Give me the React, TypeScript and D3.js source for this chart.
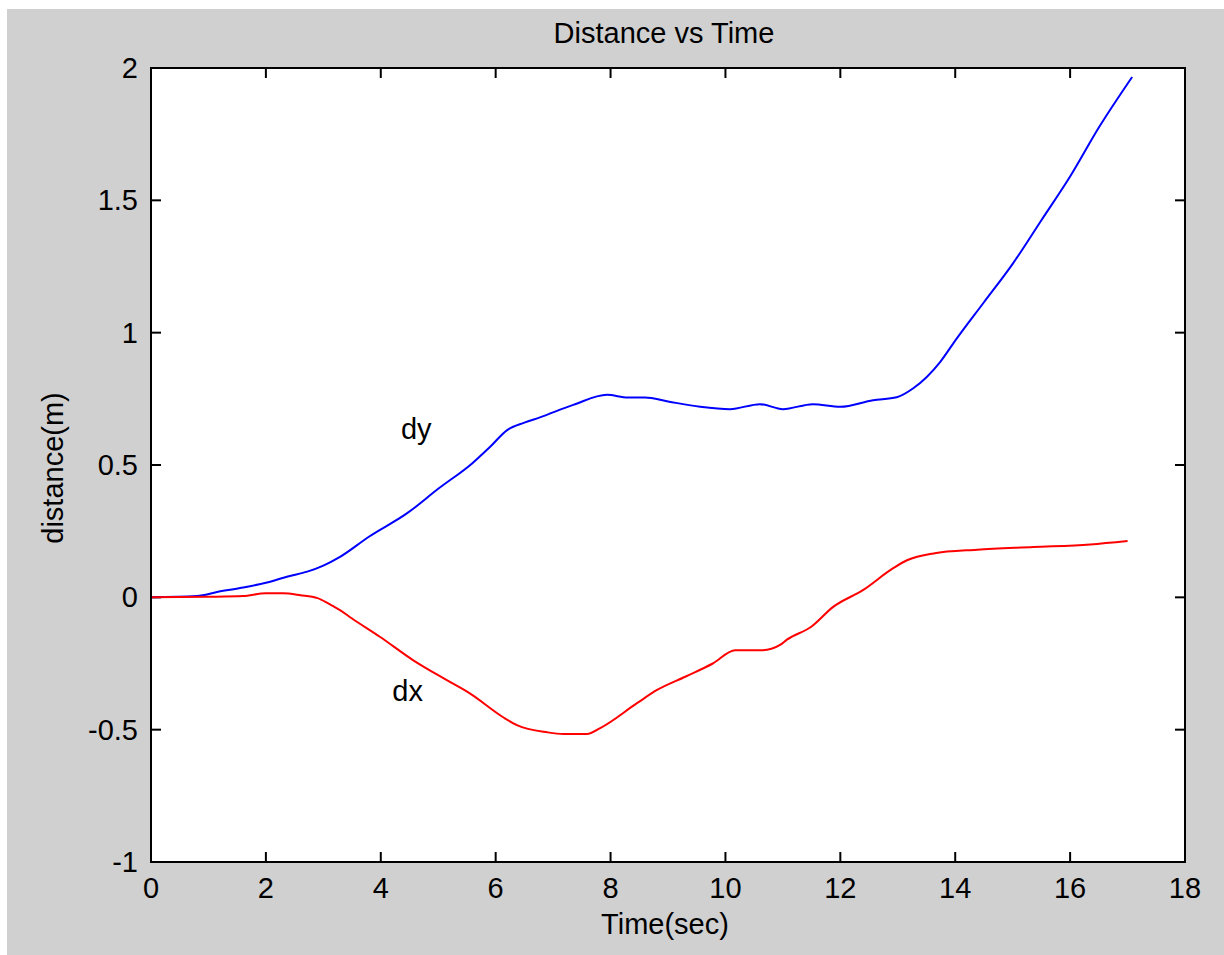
import React from "react";
import * as d3 from "d3";

const titleText = "Distance vs Time";
const xLabel = "Time(sec)";
const yLabel = "distance(m)";

const xTicks = [0, 2, 4, 6, 8, 10, 12, 14, 16, 18];
const yTicks = [-1, -0.5, 0, 0.5, 1, 1.5, 2];

const dyTime = [0, 0.8, 1.15, 1.55, 2.0, 2.4, 2.72, 3.0, 3.29, 3.8, 4.46, 5.0, 5.6, 5.9, 6.2, 6.5, 6.77, 7.35, 7.94, 8.3, 8.6, 9.0, 9.56, 10.08, 10.6, 11.0, 11.52, 12.0, 12.57, 12.98, 13.27, 13.74, 14.0, 14.5, 15.0, 15.5, 16.0, 16.5, 17.08];
const dyValue = [0, 0.005, 0.02, 0.035, 0.055, 0.08, 0.097, 0.12, 0.153, 0.23, 0.318, 0.41, 0.508, 0.568, 0.632, 0.66, 0.68, 0.727, 0.765, 0.755, 0.755, 0.74, 0.72, 0.711, 0.73, 0.711, 0.73, 0.72, 0.745, 0.756, 0.79, 0.89, 0.97, 1.115, 1.26, 1.425, 1.59, 1.775, 1.966];

const dxTime = [0, 1.0, 1.6, 2.0, 2.3, 2.6, 2.9, 3.1, 3.29, 3.5, 3.99, 4.56, 5.15, 5.55, 6.13, 6.37, 6.9, 7.18, 7.59, 7.82, 8.46, 8.81, 9.3, 9.78, 10.17, 10.65, 10.95, 11.07, 11.5, 11.87, 12.4, 12.92, 13.16, 13.62, 14.38, 15.36, 16.35, 17.0];
const dxValue = [0, 0.002, 0.005, 0.015, 0.015, 0.008, -0.003, -0.025, -0.048, -0.08, -0.15, -0.237, -0.313, -0.363, -0.453, -0.483, -0.51, -0.516, -0.516, -0.494, -0.4, -0.35, -0.3, -0.25, -0.2, -0.2, -0.18, -0.16, -0.11, -0.037, 0.028, 0.11, 0.14, 0.166, 0.18, 0.19, 0.2, 0.213];

const seriesLabels = [
  { name: "dy", t: 4.35, v: 0.6 },
  { name: "dx", t: 4.2, v: -0.39 },
];

export default function App() {
  const W = 1224;
  const H = 955;
  const left = 151, right = 1185, top = 68, bottom = 862;
  const x = d3.scaleLinear().domain([0, 18]).range([left, right]);
  const y = d3.scaleLinear().domain([-1, 2]).range([bottom, top]);
  const line = d3
    .line<[number, number]>()
    .x((d) => x(d[0]))
    .y((d) => y(d[1]))
    .curve(d3.curveMonotoneX);
  const dyPts = dyTime.map((t, i) => [t, dyValue[i]] as [number, number]);
  const dxPts = dxTime.map((t, i) => [t, dxValue[i]] as [number, number]);
  const font = "'Liberation Sans', Arial, sans-serif";
  const fs = 29;
  const tl = 10;
  return (
    <svg
      width={W}
      height={H}
      style={{ position: "absolute", left: 0, top: 0, display: "block" }}
      fontFamily={font}
    >
      <rect x={0} y={0} width={W} height={H} fill="#ffffff" />
      <rect x={7} y={9} width={W - 7} height={H - 9} fill="#d0d0d0" />
      <rect x={left} y={top} width={right - left} height={bottom - top} fill="#ffffff" />
      {xTicks.map((t) => (
        <g key={"xt" + t}>
          <line x1={x(t)} x2={x(t)} y1={bottom} y2={bottom - tl} stroke="#000" strokeWidth={2} />
          <line x1={x(t)} x2={x(t)} y1={top} y2={top + tl} stroke="#000" strokeWidth={2} />
          <text x={x(t)} y={898} textAnchor="middle" fontSize={fs} fill="#000">
            {t}
          </text>
        </g>
      ))}
      {yTicks.map((v) => (
        <g key={"yt" + v}>
          <line x1={left} x2={left + tl} y1={y(v)} y2={y(v)} stroke="#000" strokeWidth={2} />
          <line x1={right} x2={right - tl} y1={y(v)} y2={y(v)} stroke="#000" strokeWidth={2} />
          <text x={138} y={y(v)} dy="0.35em" textAnchor="end" fontSize={fs} fill="#000">
            {v}
          </text>
        </g>
      ))}
      <path d={line(dyPts) || ""} fill="none" stroke="#0000ff" strokeWidth={2} />
      <path d={line(dxPts) || ""} fill="none" stroke="#ff0000" strokeWidth={2} />
      <rect x={left} y={top} width={right - left} height={bottom - top} fill="none" stroke="#000" strokeWidth={2} />
      {seriesLabels.map((s) => (
        <text key={s.name} x={x(s.t)} y={y(s.v)} fontSize={fs} fill="#000">
          {s.name}
        </text>
      ))}
      <text x={664} y={43} textAnchor="middle" fontSize={fs} fill="#000">
        {titleText}
      </text>
      <text x={665} y={934} textAnchor="middle" fontSize={fs} fill="#000">
        {xLabel}
      </text>
      <text
        transform={`translate(63,468) rotate(-90)`}
        textAnchor="middle"
        fontSize={fs}
        fill="#000"
      >
        {yLabel}
      </text>
    </svg>
  );
}
